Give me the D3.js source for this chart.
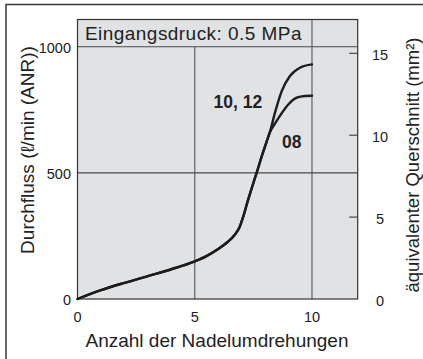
<!DOCTYPE html>
<html>
<head>
<meta charset="utf-8">
<script src="https://cdn.jsdelivr.net/npm/d3@7"></script>
<style>
  html, body { margin: 0; padding: 0; background: #fff; }
  svg { display: block; font-family: "Liberation Sans", Arial, Helvetica, sans-serif; }
</style>
</head>
<body>
<svg id="chart" width="423" height="359"></svg>
<script>
// Needle turns vs. flow rate (ℓ/min ANR) at 0.5 MPa inlet pressure
const commonTurns = [0, 1, 2, 3, 4, 5, 5.5, 6, 6.4, 6.7, 6.9, 7.07, 7.25, 7.45, 7.64, 7.86, 8.07, 8.2];
const commonFlow  = [0, 35, 64, 91, 118, 149, 170, 198, 226, 254, 282, 327, 385, 445, 500, 566, 625, 660];

const turns1012 = [8.42, 8.71, 9.06, 9.49, 10];
const flow1012  = [738, 824, 884, 917, 930];

const turns08 = [8.4, 8.64, 8.99, 9.35, 9.7, 10];
const flow08  = [692, 727, 771, 798, 805, 806];

const seriesNames = ["10, 12", "08"];

const xTicks = [0, 5, 10];
const yTicks = [0, 500, 1000];
const y2Ticks = [0, 5, 10, 15];

const headerText = "Eingangsdruck: 0.5 MPa";
const xTitle = "Anzahl der Nadelumdrehungen";
const yTitle = "Durchfluss (ℓ/min (ANR))";
const y2Title = "äquivalenter Querschnitt (mm²)";

const xMax = 11.95, yMax = 1108, y2Max = 15;

const svg = d3.select("#chart");

const plotL = 77.5, plotR = 357.7, plotT = 19.5, plotB = 299;

const x = d3.scaleLinear().domain([0, xMax]).range([plotL, plotR]);
const y = d3.scaleLinear().domain([0, yMax]).range([plotB, plotT]);
const y2 = d3.scaleLinear().domain([0, y2Max]).range([plotB, 53.3]);

// outer frame
svg.append("rect")
  .attr("x", 6).attr("y", 4.5).attr("width", 600).attr("height", 600)
  .attr("fill", "none").attr("stroke", "#3a3a3a").attr("stroke-width", 1.5);

// plot background
svg.append("rect")
  .attr("x", plotL).attr("y", plotT).attr("width", plotR - plotL).attr("height", plotB - plotT)
  .attr("fill", "#e1e2e4");

// vertical grid lines
svg.append("line")
  .attr("x1", x(5)).attr("x2", x(5)).attr("y1", y(1000)).attr("y2", plotB)
  .attr("stroke", "#6b6b6b").attr("stroke-width", 1.3);
svg.append("line")
  .attr("x1", x(10)).attr("x2", x(10)).attr("y1", plotT).attr("y2", plotB)
  .attr("stroke", "#6b6b6b").attr("stroke-width", 1.3);

// horizontal grid lines
svg.selectAll("line.hgrid").data([500, 1000]).enter().append("line")
  .attr("class", "hgrid")
  .attr("x1", plotL).attr("x2", plotR)
  .attr("y1", d => y(d)).attr("y2", d => y(d))
  .attr("stroke", "#4a4a4a").attr("stroke-width", 1.1);

// right axis ticks (pointing inward)
svg.selectAll("line.rtick").data(y2Ticks.filter(d => d > 0)).enter().append("line")
  .attr("class", "rtick")
  .attr("x1", plotR - 8.5).attr("x2", plotR)
  .attr("y1", d => y2(d)).attr("y2", d => y2(d))
  .attr("stroke", "#3a3a3a").attr("stroke-width", 1.1);

// plot border
svg.append("rect")
  .attr("x", plotL).attr("y", plotT).attr("width", plotR - plotL).attr("height", plotB - plotT)
  .attr("fill", "none").attr("stroke", "#333").attr("stroke-width", 1.2);

// header
svg.append("text")
  .attr("x", 85).attr("y", 39.5)
  .attr("font-size", 19).attr("letter-spacing", 0.45).attr("fill", "#222")
  .text(headerText);

// curves
const line = d3.line().x(d => x(d[0])).y(d => y(d[1])).curve(d3.curveMonotoneX);
const base = d3.zip(commonTurns, commonFlow);
const s1012 = base.concat(d3.zip(turns1012, flow1012));
const s08 = base.concat(d3.zip(turns08, flow08));

[s1012, s08].forEach(s => {
  svg.append("path").datum(s)
    .attr("d", line)
    .attr("fill", "none").attr("stroke", "#1c1c1c").attr("stroke-width", 2.4)
    .attr("stroke-linejoin", "round").attr("stroke-linecap", "round");
});

// series labels
svg.append("text").attr("x", x(5.8)).attr("y", y(757))
  .attr("font-size", 17.5).attr("font-weight", "bold").attr("fill", "#222")
  .text(seriesNames[0]);
svg.append("text").attr("x", x(8.72)).attr("y", y(597))
  .attr("font-size", 17.5).attr("font-weight", "bold").attr("fill", "#222")
  .text(seriesNames[1]);

// left tick labels
svg.selectAll("text.ylab").data(yTicks).enter().append("text")
  .attr("class", "ylab")
  .attr("x", 71).attr("y", d => y(d)).attr("dy", "0.42em")
  .attr("text-anchor", "end").attr("font-size", 14.5).attr("fill", "#222")
  .text(d => d);

// bottom tick labels
svg.selectAll("text.xlab").data(xTicks).enter().append("text")
  .attr("class", "xlab")
  .attr("x", d => x(d)).attr("y", 321.5)
  .attr("text-anchor", "middle").attr("font-size", 14.5).attr("fill", "#222")
  .text(d => d);

// right tick labels
svg.selectAll("text.y2lab").data(y2Ticks).enter().append("text")
  .attr("class", "y2lab")
  .attr("x", 380).attr("y", d => y2(d)).attr("dy", "0.48em")
  .attr("text-anchor", "middle").attr("font-size", 14.5).attr("fill", "#222")
  .text(d => d);

// axis titles
svg.append("text")
  .attr("x", 217).attr("y", 347)
  .attr("text-anchor", "middle").attr("font-size", 19).attr("fill", "#222")
  .text(xTitle);

svg.append("text")
  .attr("transform", "translate(33.5,150) rotate(-90)")
  .attr("text-anchor", "middle").attr("font-size", 19).attr("fill", "#222")
  .text(yTitle);

svg.append("text")
  .attr("transform", "translate(419,165) rotate(-90)")
  .attr("text-anchor", "middle").attr("font-size", 18.5).attr("fill", "#222")
  .text(y2Title);
</script>
</body>
</html>
